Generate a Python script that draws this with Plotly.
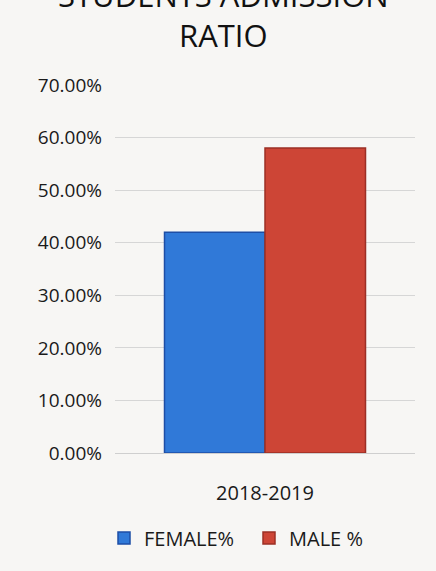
import plotly.graph_objects as go

categories = ["2018-2019"]
female = [0.42]
male = [0.58]
series_names = ["FEMALE%", "MALE %"]
title_text = "STUDENTS ADMISSION<br>RATIO"

W, H = 436, 571
left, right, top, bottom = 115, 21, 85, 118
plot_h = H - top - bottom
FONT = "Open Sans, Lato, sans-serif"

fig = go.Figure()
fig.add_trace(go.Bar(x=categories, y=female, name=series_names[0],
                     marker=dict(color="#3079d8", line=dict(color="#1d4ea6", width=1.5))))
fig.add_trace(go.Bar(x=categories, y=male, name=series_names[1],
                     marker=dict(color="#cd4536", line=dict(color="#9c2f25", width=1.5))))

fig.update_layout(
    width=W, height=H,
    margin=dict(l=left, r=right, t=top, b=bottom),
    paper_bgcolor="#f7f6f4", plot_bgcolor="#f7f6f4",
    barmode="group", bargap=0.33, bargroupgap=0,
    font=dict(family=FONT, color="#1a1a1a"),
    showlegend=True,
    legend=dict(orientation="h", xref="container", yref="container",
                x=104 / W, xanchor="left", y=1 - 538 / H, yanchor="middle",
                font=dict(size=20, family=FONT), entrywidth=100,
                bgcolor="rgba(0,0,0,0)"),
    annotations=[dict(text=title_text, xref="paper", yref="paper",
                      x=(223 - left) / (W - left - right), xanchor="center",
                      y=1 + (top - 58) / plot_h, yanchor="bottom",
                      showarrow=False, font=dict(size=31, color="#111111", family=FONT))],
)
fig.update_yaxes(range=[0, 0.7], dtick=0.1, tickformat=".2%",
                 showgrid=True, gridcolor="#d6d6d6", gridwidth=1,
                 zeroline=False, showline=False, automargin=False,
                 tickfont=dict(size=19, family=FONT), ticklabelstandoff=12)
fig.update_xaxes(showgrid=False, showline=True, linecolor="#cfcfcf",
                 automargin=False, tickfont=dict(size=20, family=FONT), ticklabelstandoff=22)

fig.write_html("out.html")
